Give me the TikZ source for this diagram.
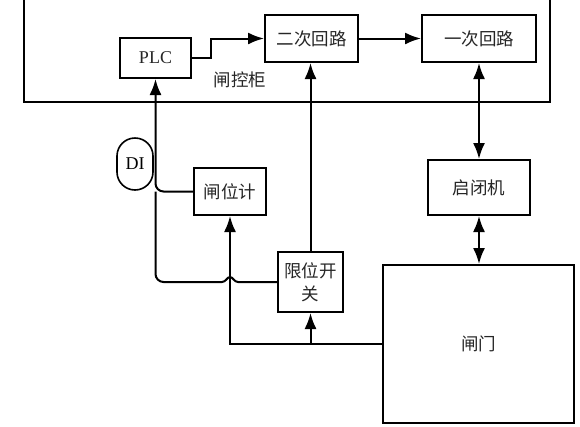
\documentclass[tikz,border=0pt]{standalone}
\usepackage{fontspec}
\setmainfont{Liberation Serif}
\newfontfamily\cjk{Noto Sans CJK SC}
\usetikzlibrary{arrows.meta,calc}
\begin{document}
\begin{tikzpicture}[x=1pt,y=-1pt,
  line width=2pt,
  box/.style={draw,line width=2pt,inner sep=0pt,align=center,font=\cjk\fontsize{17.5}{23}\selectfont,text=black!85},
  arr/.style={-{Latex[length=16pt,width=12pt]}},
  darr/.style={{Latex[length=16pt,width=12pt]}-{Latex[length=16pt,width=12pt]}}]
\useasboundingbox (0,0) rectangle (580,426);
% cabinet
\draw (24,-2) -- (24,102) -- (550,102) -- (550,-2);
\node[text=black!85,font=\cjk\fontsize{17.5}{20}\selectfont] (cab) at (240,80) {闸控柜};
% boxes
\node[box,minimum width=71pt,minimum height=40pt,font=\fontsize{18}{20}\selectfont] (plc) at (155.5,58) {PLC};
\node[box,minimum width=93pt,minimum height=47pt] (er) at (311.5,38.5) {二次回路};
\node[box,minimum width=114pt,minimum height=47pt] (yi) at (479,38.5) {一次回路};
\node[box,minimum width=102pt,minimum height=55pt] (qb) at (479,187.5) {启闭机};
\node[box,minimum width=72pt,minimum height=47pt] (zw) at (230,191.5) {闸位计};
\node[box,minimum width=65pt,minimum height=60pt] (xw) at (310.5,282) {限位开\\关};
\node[box,minimum width=191pt,minimum height=158pt] (zm) at (478.5,344) {闸门};
\node[draw,line width=1.6pt,rounded corners=18pt,minimum width=36pt,minimum height=52pt,inner sep=0pt,font=\fontsize{18}{20}\selectfont] (di) at (135,164) {DI};
% connectors
\draw[arr] (plc.east) -- ++(19,0) |- (er.west);
\draw[arr] (er.east) -- (yi.west);
\draw[darr] (yi.south) -- (qb.north);
\draw[darr] (qb.south) -- (qb.south |- zm.north);
\draw[arr] (xw.north) -- (xw.north |- er.south);
\draw[arr,rounded corners=8pt] (zw.west) -| (plc.south);
\coordinate (hop) at (zw.south |- xw.west);
\draw (xw.west) -- ($(hop)+(8,0)$) .. controls ($(hop)+(4,0)$) and ($(hop)+(3,-5)$) .. ($(hop)+(0,-5)$) .. controls ($(hop)+(-3,-5)$) and ($(hop)+(-4,0)$) .. ($(hop)+(-8,0)$) [rounded corners=8pt] -- (plc.south |- xw.west) -- (plc.south |- zw.west);
\draw[arr] (zm.west) -| (zw.south);
\draw[arr] (xw.south |- zm.west) -- (xw.south);
\end{tikzpicture}
\end{document}
